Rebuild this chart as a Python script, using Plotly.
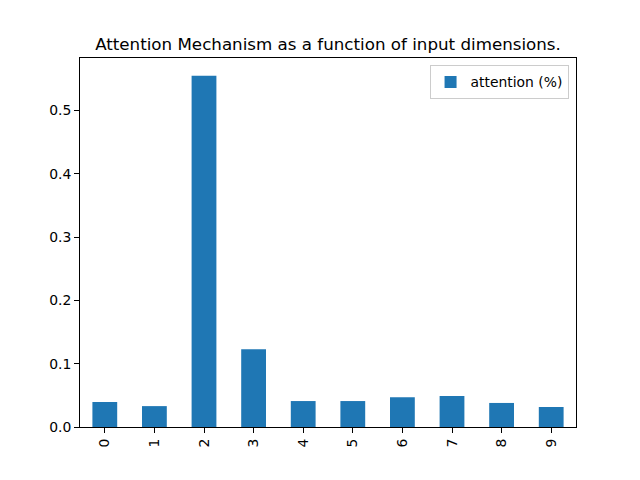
import plotly.graph_objects as go

categories = ["0", "1", "2", "3", "4", "5", "6", "7", "8", "9"]
attention = [0.0395, 0.033, 0.555, 0.123, 0.041, 0.041, 0.047, 0.049, 0.038, 0.0316]

fig = go.Figure()
fig.add_trace(go.Bar(
    x=list(range(len(categories))), y=attention, name="attention (%)",
    marker=dict(color="#1f77b4", line=dict(width=0)), width=0.5,
    showlegend=True,
))

fig.update_layout(
    width=640, height=480,
    margin=dict(l=80, r=64, t=58, b=53),
    paper_bgcolor="white", plot_bgcolor="white",
    font=dict(family="DejaVu Sans", size=13.9, color="black"),
    title=dict(text="Attention Mechanism as a function of input dimensions.",
               x=0.5, xref="paper", xanchor="center", y=1 - 44/480, yanchor="middle",
               font=dict(size=16.7)),
    showlegend=True,
    legend=dict(x=0.985, y=0.98, xanchor="right", yanchor="top",
                bgcolor="rgba(255,255,255,0.8)", bordercolor="#cccccc", borderwidth=1,
                font=dict(size=13.9), itemwidth=30),
    bargap=0.5,
)
fig.update_xaxes(
    range=[-0.5, 9.5], tickmode="array", tickvals=list(range(len(categories))),
    ticktext=categories, tickangle=-90, ticks="outside", ticklen=5, tickcolor="black",
    showline=True, linecolor="black", linewidth=1, mirror=True, showgrid=False,
    zeroline=False,
)
fig.update_yaxes(
    range=[0, 0.583], tickmode="array", tickvals=[0, 0.1, 0.2, 0.3, 0.4, 0.5],
    ticktext=["0.0", "0.1", "0.2", "0.3", "0.4", "0.5"],
    ticks="outside", ticklen=5, tickcolor="black",
    showline=True, linecolor="black", linewidth=1, mirror=True, showgrid=False,
    zeroline=False,
)
fig.write_html("out.html")
